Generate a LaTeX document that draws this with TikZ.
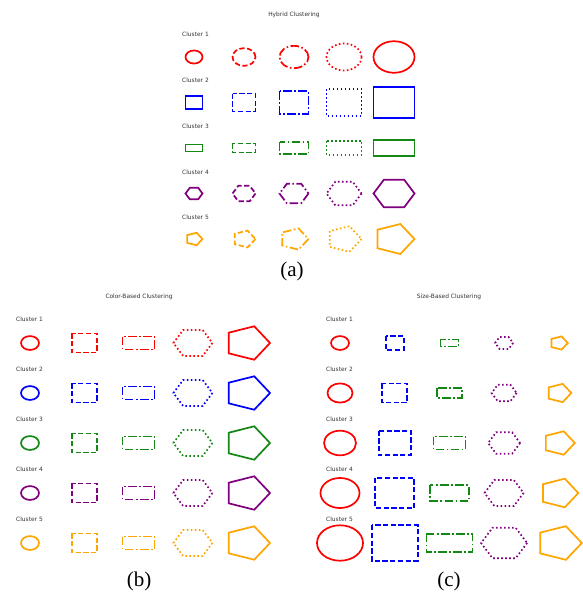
\documentclass[tikz,border=0pt]{standalone}
\usepackage{fontspec}
\newfontfamily\djv{DejaVu Sans}
\newfontfamily\tms{Liberation Serif}
\definecolor{cred}{RGB}{255,0,0}
\definecolor{cblue}{RGB}{0,0,255}
\definecolor{cgreen}{RGB}{20,135,20}
\definecolor{cpurple}{RGB}{128,0,128}
\definecolor{corange}{RGB}{255,165,0}
\tikzset{
  lw/.style={line width=1.7pt},
  solidline/.style={lw},
  dashline/.style={lw, dash pattern=on 5.2pt off 2.5pt},
  dashdotline/.style={lw, dash pattern=on 8.5pt off 2.5pt on 1.6pt off 2.5pt},
  dotline/.style={lw, dash pattern=on 1.6pt off 2.4pt},
  small/.style={font=\fontsize{5.9}{7}\djv, text=black!80, inner sep=0pt},
  clabel/.style={small, anchor=west},
  caption/.style={font=\fontsize{21}{24}\tms, inner sep=0pt},
}
% shapes: cx, cy, size, style
\newcommand\shE[4]{\draw[#4] (#1,#2) ellipse [x radius={(#3)*1pt}, y radius={0.77*(#3)*1pt}];}
\newcommand\shR[5]{\draw[#5] ({#1-(#3)},{#2-(#4)}) rectangle ({#1+(#3)},{#2+(#4)});}
\newcommand\shH[4]{\draw[#4, shift={(#1,#2)}, yscale=0.77] (0:#3) -- (60:#3) -- (120:#3) -- (180:#3) -- (240:#3) -- (300:#3) -- cycle;}
\newcommand\shP[4]{\draw[#4, shift={(#1,#2)}, yscale=0.77] (0:#3) -- (72:#3) -- (144:#3) -- (216:#3) -- (288:#3) -- cycle;}
\begin{document}
\begin{tikzpicture}[x=1pt,y=-1pt]
\useasboundingbox (0,0) rectangle (582,592);
% ---------------- panel (a)
\node[small] (ta) at (294,15) {Hybrid Clustering};
\foreach \i in {0,...,4}{
  \pgfmathtruncatemacro\n{\i+1}
  \node[clabel] (la\n) at (182,{34.5+45.8*\i}) {Cluster \n};
}
\foreach \k/\ls in {0/solidline,1/dashline,2/dashdotline,3/dotline,4/solidline}{
  \pgfmathsetmacro\xx{194+50*\k}
  \pgfmathsetmacro\sz{8.5+3*\k}
  \shE{\xx}{57}{\sz}{\ls,cred}
  \shR{\xx}{102.5}{\sz}{0.77*\sz}{\ls,cblue}
  \shR{\xx}{148}{\sz}{0.4*\sz}{\ls,cgreen}
  \shH{\xx}{193.5}{\sz}{\ls,cpurple}
  \shP{\xx}{239}{\sz}{\ls,corange}
}
\node[caption] (capa) at (292,271) {(a)};
% ---------------- panel (b)
\node[small] (tb) at (139,297) {Color-Based Clustering};
\foreach \c [count=\n from 1] in {cred,cblue,cgreen,cpurple,corange}{
  \pgfmathsetmacro\yy{343+50*(\n-1)}
  \node[clabel] (lb\n) at (16,{\yy-24}) {Cluster \n};
  \shE{30}{\yy}{9}{solidline,\c}
  \shR{84.3}{\yy}{12.5}{0.77*12.5}{dashline,\c}
  \shR{138.6}{\yy}{16}{0.4*16}{dashdotline,\c}
  \shH{192.9}{\yy}{19.5}{dotline,\c}
  \shP{247.2}{\yy}{22.8}{solidline,\c}
}
\node[caption] (capb) at (139,581) {(b)};
% ---------------- panel (c)
\node[small] (tc) at (449,297) {Size-Based Clustering};
\foreach \i in {0,...,4}{
  \pgfmathtruncatemacro\n{\i+1}
  \pgfmathsetmacro\yy{343+50*\i}
  \pgfmathsetmacro\sz{9+3.5*\i}
  \node[clabel] (lc\n) at (326,{\yy-24}) {Cluster \n};
  \shE{340}{\yy}{\sz}{solidline,cred}
  \shR{394.7}{\yy}{\sz}{0.77*\sz}{dashline,cblue}
  \shR{449.4}{\yy}{\sz}{0.4*\sz}{dashdotline,cgreen}
  \shH{504.1}{\yy}{\sz}{dotline,cpurple}
  \shP{558.8}{\yy}{\sz}{solidline,corange}
}
\node[caption] (capc) at (449,581) {(c)};
\end{tikzpicture}
\end{document}
